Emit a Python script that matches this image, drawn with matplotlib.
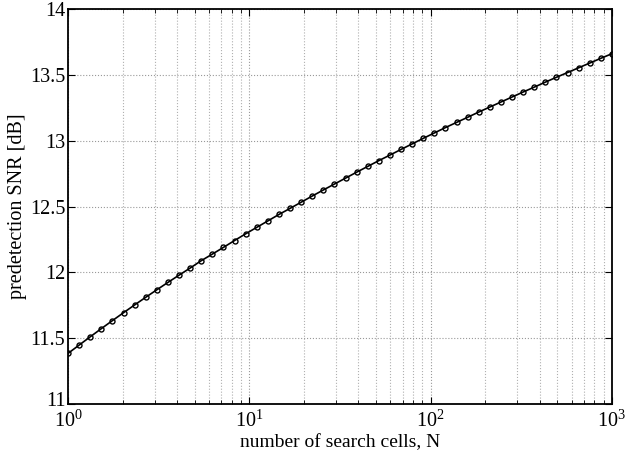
"""Predetection SNR vs number of search cells (log x)."""

import matplotlib
matplotlib.use("Agg")
import matplotlib.pyplot as plt
import matplotlib.transforms as mtransforms

# number of search cells (50 log-spaced points, 1 .. 1000)
N = [1.0, 1.1514, 1.3257, 1.5264, 1.7575, 2.0236, 2.3300, 2.6827, 3.0888, 3.5565,
     4.0949, 4.7149, 5.4287, 6.2506, 7.1969, 8.2864, 9.5410, 10.985, 12.649, 14.563,
     16.768, 19.307, 22.230, 25.595, 29.471, 33.932, 39.069, 44.984, 51.795, 59.636,
     68.665, 79.060, 91.030, 104.81, 120.68, 138.95, 159.99, 184.21, 212.10, 244.21,
     281.18, 323.75, 372.76, 429.19, 494.17, 568.99, 655.13, 754.31, 868.51, 1000.0]

# predetection SNR [dB]
snr_db = [11.385, 11.448, 11.511, 11.573, 11.634, 11.694, 11.753, 11.811, 11.868, 11.924,
          11.979, 12.033, 12.089, 12.139, 12.190, 12.242, 12.293, 12.342, 12.391, 12.440,
          12.486, 12.533, 12.580, 12.626, 12.671, 12.716, 12.761, 12.805, 12.849, 12.891,
          12.934, 12.976, 13.018, 13.059, 13.100, 13.139, 13.178, 13.218, 13.256, 13.294,
          13.332, 13.370, 13.407, 13.445, 13.482, 13.518, 13.554, 13.590, 13.626, 13.661]

y_ticks = [11, 11.5, 12, 12.5, 13, 13.5, 14]
y_ticklabels = ["11", "11.5", "12", "12.5", "13", "13.5", "14"]

plt.rcParams["font.family"] = ["Liberation Serif", "DejaVu Serif"]
plt.rcParams["mathtext.fontset"] = "custom"
plt.rcParams["mathtext.rm"] = "Liberation Serif"
plt.rcParams["mathtext.it"] = "Liberation Serif:italic"
plt.rcParams["font.size"] = 14.5

fig = plt.figure(figsize=(6.27, 4.53), dpi=100)
ax = fig.add_axes([0.1085, 0.108, 0.8675, 0.872])

ax.semilogx(N, snr_db, "k-o", lw=1.2, ms=3.6, mfc="none", mew=1.0)

ax.set_xlim(1, 1000)
ax.set_ylim(11, 14)
ax.set_yticks(y_ticks)
ax.set_yticklabels(y_ticklabels)

ax.grid(True, which="major", ls=":", color="#999999", lw=0.8)
ax.grid(True, which="minor", axis="x", ls=":", color="#b0b0b0", lw=0.8)

ax.tick_params(which="both", direction="in", top=True, right=True)
ax.tick_params(which="major", length=5, width=0.8, labelsize=14.5)
ax.tick_params(axis="x", which="major", pad=5)
ax.tick_params(axis="y", which="major", pad=2)
ax.tick_params(which="minor", length=3, width=0.6)
for sp in ax.spines.values():
    sp.set_linewidth(1.3)

# nudge the bottom y label up a touch so it clears the 10^0 label
lbl = ax.get_yticklabels()[0]
lbl.set_transform(lbl.get_transform() + mtransforms.ScaledTranslation(0, 4 / 72, fig.dpi_scale_trans))

ax.set_xlabel("number of search cells, N", fontsize=14, labelpad=1)
ax.set_ylabel("predetection SNR [dB]", labelpad=2)

fig.savefig("out.png", dpi=100)
